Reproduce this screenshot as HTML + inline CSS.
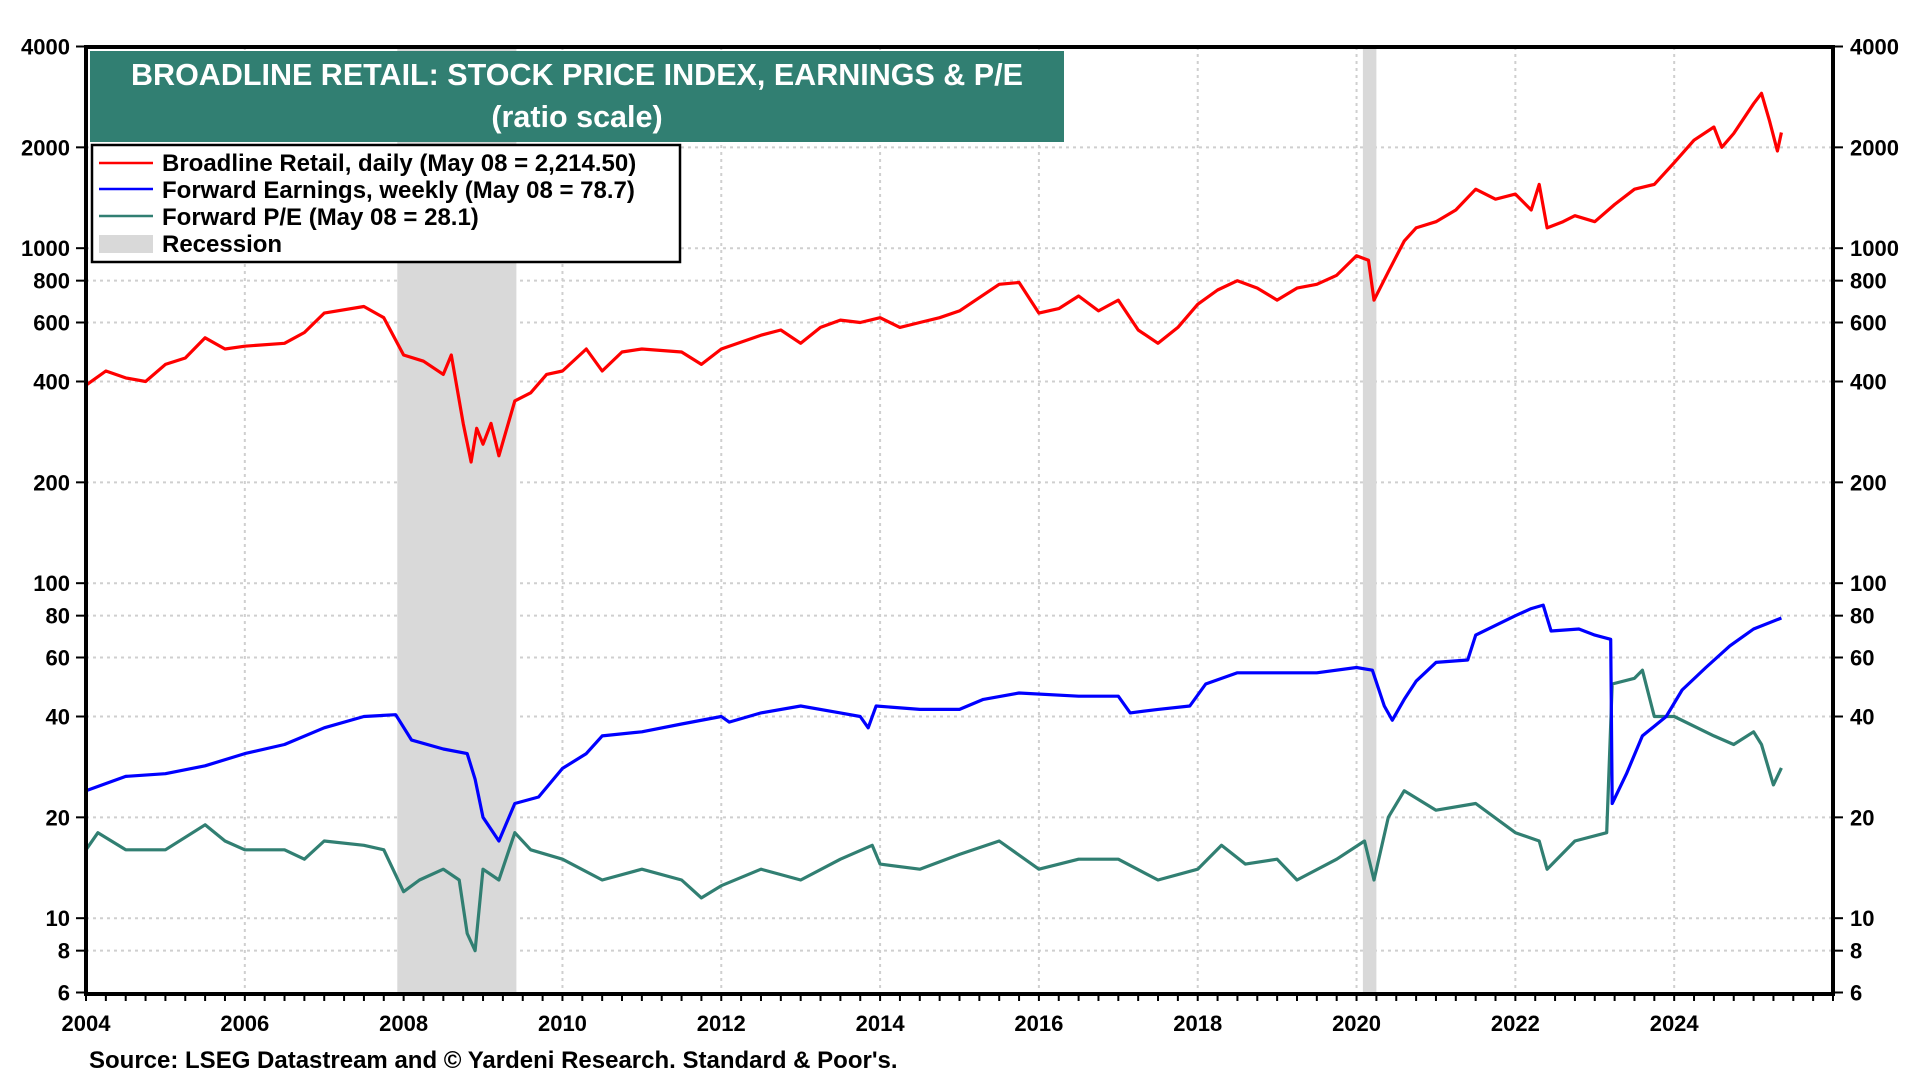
<!DOCTYPE html>
<html><head><meta charset="utf-8"><style>
html,body{margin:0;padding:0;background:#fff;}
svg{display:block;font-family:"Liberation Sans",Arial,sans-serif;font-weight:bold;}
</style></head><body>
<svg id="chart" width="1920" height="1080" viewBox="0 0 1920 1080" xmlns="http://www.w3.org/2000/svg">
<g id="grid"></g>
<g id="rec"></g>
<g id="series"></g>
<rect x="86" y="47" width="1747" height="947" fill="none" stroke="#000" stroke-width="4"/>
<g id="axes"></g>
<g>
<rect x="90" y="51" width="974" height="91" fill="#317f72"/>
<text x="577" y="85" text-anchor="middle" font-size="30.5" fill="#fff">BROADLINE RETAIL: STOCK PRICE INDEX, EARNINGS &amp; P/E</text>
<text x="577" y="127" text-anchor="middle" font-size="30.5" fill="#fff">(ratio scale)</text>
</g>
<g>
<rect x="92" y="145" width="588" height="117" fill="#fff" stroke="#000" stroke-width="2.5"/>
<g><line x1="99" y1="163" x2="153" y2="163" stroke="#ff0000" stroke-width="2.5"/><text x="162" y="171" font-size="24">Broadline Retail, daily (May 08 = 2,214.50)</text></g>
<g><line x1="99" y1="189" x2="153" y2="189" stroke="#0000ff" stroke-width="2.5"/><text x="162" y="198" font-size="24">Forward Earnings, weekly (May 08 = 78.7)</text></g>
<g><line x1="99" y1="216" x2="153" y2="216" stroke="#317f72" stroke-width="2.5"/><text x="162" y="225" font-size="24">Forward P/E (May 08 = 28.1)</text></g>
<g><rect x="99" y="235" width="54" height="18" fill="#d9d9d9"/><text x="162" y="252" font-size="24">Recession</text></g>
</g>
<text x="89" y="1068" font-size="24">Source: LSEG Datastream and © Yardeni Research. Standard &amp; Poor's.</text>
</svg>
<script>
const yTicks=[4000,2000,1000,800,600,400,200,100,80,60,40,20,10,8,6];
const xTicks=[2004,2006,2008,2010,2012,2014,2016,2018,2020,2022,2024];
const recessions=[[2007.92,2009.42],[2020.08,2020.25]];
const priceT=[2004,2004.25,2004.5,2004.75,2005,2005.25,2005.5,2005.75,2006,2006.5,2006.75,2007,2007.5,2007.75,2008,2008.25,2008.5,2008.6,2008.75,2008.85,2008.92,2009.0,2009.1,2009.2,2009.4,2009.6,2009.8,2010,2010.3,2010.5,2010.75,2011,2011.5,2011.75,2012,2012.5,2012.75,2013,2013.25,2013.5,2013.75,2014,2014.25,2014.5,2014.75,2015,2015.5,2015.75,2016,2016.25,2016.5,2016.75,2017,2017.25,2017.5,2017.75,2018,2018.25,2018.5,2018.75,2019,2019.25,2019.5,2019.75,2020,2020.15,2020.22,2020.4,2020.6,2020.75,2021,2021.25,2021.5,2021.75,2022,2022.2,2022.3,2022.4,2022.6,2022.75,2023,2023.25,2023.5,2023.75,2024,2024.25,2024.5,2024.6,2024.75,2025,2025.1,2025.2,2025.3,2025.35];
const priceV=[390,430,410,400,450,470,540,500,510,520,560,640,670,620,480,460,420,480,300,230,290,260,300,240,350,370,420,430,500,430,490,500,490,450,500,550,570,520,580,610,600,620,580,600,620,650,780,790,640,660,720,650,700,570,520,580,680,750,800,760,700,760,780,830,950,920,700,850,1050,1150,1200,1300,1500,1400,1450,1300,1550,1150,1200,1250,1200,1350,1500,1550,1800,2100,2300,2000,2200,2700,2900,2400,1950,2214.5];
const epsT=[2004,2004.5,2005,2005.5,2006,2006.5,2007,2007.5,2007.9,2008.1,2008.5,2008.8,2008.9,2009.0,2009.2,2009.4,2009.7,2010,2010.3,2010.5,2011,2011.5,2012,2012.1,2012.5,2013,2013.5,2013.75,2013.85,2013.95,2014.5,2015,2015.3,2015.75,2016.5,2017,2017.15,2017.5,2017.9,2018.1,2018.5,2019,2019.5,2020,2020.2,2020.35,2020.45,2020.6,2020.75,2021,2021.4,2021.5,2022,2022.2,2022.35,2022.45,2022.8,2023,2023.2,2023.22,2023.4,2023.6,2023.9,2024.1,2024.4,2024.7,2025,2025.35];
const epsV=[24,26.5,27,28.5,31,33,37,40,40.5,34,32,31,26,20,17,22,23,28,31,35,36,38,40,38.5,41,43,41,40,37,43,42,42,45,47,46,46,41,42,43,50,54,54,54,56,55,43,39,45,51,58,59,70,80,84,86,72,73,70,68,22,27,35,40,48,56,65,73,78.7];
const peT=[2004,2004.15,2004.5,2005,2005.5,2005.75,2006,2006.5,2006.75,2007,2007.5,2007.75,2008,2008.2,2008.5,2008.7,2008.8,2008.9,2009.0,2009.2,2009.4,2009.6,2010,2010.5,2011,2011.5,2011.75,2012,2012.5,2013,2013.5,2013.9,2014,2014.5,2015,2015.5,2016,2016.5,2017,2017.5,2018,2018.3,2018.6,2019,2019.25,2019.75,2020.1,2020.22,2020.4,2020.6,2021,2021.5,2022,2022.3,2022.4,2022.75,2023.15,2023.22,2023.5,2023.6,2023.75,2024,2024.5,2024.75,2025,2025.1,2025.25,2025.35];
const peV=[16,18,16,16,19,17,16,16,15,17,16.5,16,12,13,14,13,9,8,14,13,18,16,15,13,14,13,11.5,12.5,14,13,15,16.5,14.5,14,15.5,17,14,15,15,13,14,16.5,14.5,15,13,15,17,13,20,24,21,22,18,17,14,17,18,50,52,55,40,40,35,33,36,33,25,28.1];
const NS='http://www.w3.org/2000/svg';
const L=86,R=1833,T=47,B=994;
function X(t){return L+(t-2004)*(R-L)/22;}
function Y(v){return 46.5+(Math.log10(4000)-Math.log10(v))*335;}
function mk(tag,attrs,parent){const e=document.createElementNS(NS,tag);for(const k in attrs)e.setAttribute(k,attrs[k]);parent.appendChild(e);return e;}
const grid=document.getElementById('grid'),axes=document.getElementById('axes'),rec=document.getElementById('rec'),ser=document.getElementById('series');
yTicks.forEach(v=>{const y=Y(v);
 if(v!==4000&&v!==6){const g=mk('line',{x1:L,x2:R,y1:y,y2:y,stroke:'#cfcfcf','stroke-width':2,'stroke-dasharray':'3,4'},grid);
 
 }
 const tl=mk('text',{x:70,y:y+8,'text-anchor':'end','font-size':22},axes);tl.textContent=v;
 
 
 const tr=mk('text',{x:1850,y:y+8,'text-anchor':'start','font-size':22},axes);tr.textContent=v;
 
 
 mk('line',{x1:L-10,x2:L,y1:y,y2:y,stroke:'#000','stroke-width':2},axes);
 mk('line',{x1:R,x2:R+10,y1:y,y2:y,stroke:'#000','stroke-width':2},axes);
});
xTicks.forEach(t=>{const x=X(t);
 if(t!==2004){const g=mk('line',{x1:x,x2:x,y1:T,y2:B,stroke:'#cfcfcf','stroke-width':2,'stroke-dasharray':'3,4'},grid);
 
 }
 const tx=mk('text',{x:x,y:1031,'text-anchor':'middle','font-size':22},axes);tx.textContent=t;
 
 
});
for(let q=2004;q<=2026;q+=0.25){mk('line',{x1:X(q),x2:X(q),y1:B,y2:B+7,stroke:'#000','stroke-width':2},axes);}
recessions.forEach(r=>{const e=mk('rect',{x:X(r[0]),y:T,width:X(r[1])-X(r[0]),height:B-T,fill:'#d9d9d9'},rec);
 
 });
function line(ts,vs,col,name){const d=ts.map((t,i)=>(i?'L':'M')+X(t).toFixed(1)+','+Y(vs[i]).toFixed(1)).join('');
 const p=mk('path',{d:d,fill:'none',stroke:col,'stroke-width':3.2,'stroke-linejoin':'round'},ser);
 
 }
line(peT,peV,'#317f72','forward-pe-line');
line(epsT,epsV,'#0000ff','forward-earnings-line');
line(priceT,priceV,'#ff0000','stock-price-line');
</script>
</body></html>
